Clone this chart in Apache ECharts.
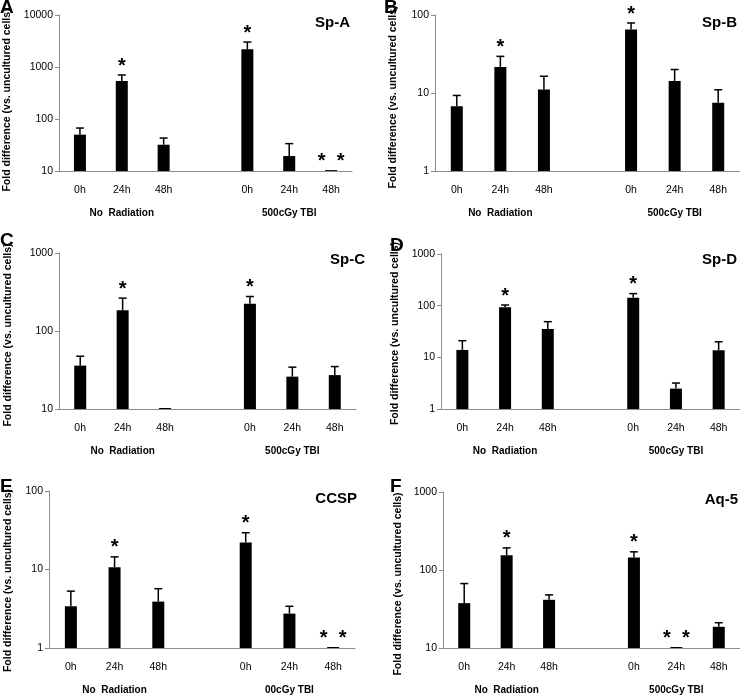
<!DOCTYPE html>
<html>
<head>
<meta charset="utf-8">
<script src="https://cdn.jsdelivr.net/npm/echarts@6/dist/echarts.min.js"></script>
<style>html,body{margin:0;padding:0;background:#fff}#c{width:740px;height:695px}</style>
</head>
<body>
<div id="c"></div>
<script>
// ---- data ----
const categories = ['0h', '24h', '48h', '', '0h', '24h', '48h'];
const groupNoRad = 'No  Radiation';
const groupTBI = '500cGy TBI';
const groupTBI_E = '00cGy TBI';
const yAxisName = 'Fold difference (vs. uncultured cells)';

const spA = [50, 537, 32, null, 2190, 19.4, 10.4];
const errA = [67, 702, 43, null, 3020, 33.6, null];
const starA = [0, 1, 0, 0, 1, 0, 2];

const spB = [6.75, 21.5, 11.1, null, 65, 14.3, 7.5];
const errB = [9.3, 29.5, 16.4, null, 79, 20, 11];
const starB = [0, 1, 0, 0, 1, 0, 0];

const spC = [36, 184, 10.3, null, 223, 26, 27.2];
const errC = [47.5, 264, null, null, 277, 34.4, 35];
const starC = [0, 1, 0, 0, 1, 0, 0];

const spD = [13.9, 93, 35.3, null, 143, 2.48, 13.7];
const errD = [21, 103, 49, null, 171, 3.18, 20];
const starD = [0, 1, 0, 0, 1, 0, 0];

const ccsp = [3.4, 10.7, 3.9, null, 22.1, 2.74, 1.03];
const errE = [5.3, 14.5, 5.7, null, 29.4, 3.4, null];
const starE = [0, 1, 0, 0, 1, 0, 2];

const aq5 = [37.6, 155, 41.5, null, 144.6, 10.3, 18.7];
const errF = [67, 192, 48, null, 171, null, 21.1];
const starF = [0, 1, 0, 0, 1, 2, 0];

const panels = [
  {letter: 'A', title: 'Sp-A', vals: spA, err: errA, star: starA, min: 10, max: 10000, tbi: groupTBI},
  {letter: 'B', title: 'Sp-B', vals: spB, err: errB, star: starB, min: 1, max: 100, tbi: groupTBI},
  {letter: 'C', title: 'Sp-C', vals: spC, err: errC, star: starC, min: 10, max: 1000, tbi: groupTBI},
  {letter: 'D', title: 'Sp-D', vals: spD, err: errD, star: starD, min: 1, max: 1000, tbi: groupTBI},
  {letter: 'E', title: 'CCSP', vals: ccsp, err: errE, star: starE, min: 1, max: 100, tbi: groupTBI_E},
  {letter: 'F', title: 'Aq-5', vals: aq5, err: errF, star: starF, min: 10, max: 1000, tbi: groupTBI}
];

// ---- layout (positions only) ----
const layout = [
  {grid: {left: 59, top: 15, width: 293, height: 156}, nameGap: 46, shift: 7, t: {right: 390, top: 15}, l: {left: 0, top: -2}},
  {grid: {left: 435, top: 15, width: 305, height: 156}, nameGap: 36, shift: 4, t: {right: 3, top: 15}, l: {left: 384, top: -2}},
  {grid: {left: 59, top: 253, width: 297, height: 156}, nameGap: 45, shift: 4, t: {right: 375, top: 252}, l: {left: 0, top: 231}},
  {grid: {left: 441, top: 254, width: 299, height: 155}, nameGap: 40, shift: 2, t: {right: 3, top: 252}, l: {left: 390, top: 236}},
  {grid: {left: 49, top: 491, width: 306, height: 157}, nameGap: 35, shift: 11, t: {right: 383, top: 491}, l: {left: 0, top: 477}},
  {grid: {left: 443, top: 492, width: 297, height: 157}, nameGap: 39, shift: 14, t: {right: 2, top: 492}, l: {left: 390, top: 477}}
];

const FONT = 'Liberation Sans';
const AXIS_COLOR = '#8c8c8c';

function errItem(params, api) {
  const i = api.value(0), lo = api.value(1), hi = api.value(2);
  const a = api.coord([i, lo]);
  const b = api.coord([i, hi]);
  return {
    type: 'group',
    children: [
      {type: 'line', shape: {x1: a[0], y1: a[1], x2: b[0], y2: b[1]}, style: {stroke: '#000', lineWidth: 1.5}},
      {type: 'line', shape: {x1: b[0] - 4, y1: b[1], x2: b[0] + 4, y2: b[1]}, style: {stroke: '#000', lineWidth: 1.5}}
    ]
  };
}

function starItem(params, api) {
  const i = api.value(0), y = api.value(1), kind = api.value(2);
  const p = api.coord([i, y]);
  const st = (x) => ({
    type: 'text',
    style: {text: '*', x: x, y: p[1] - 9, fill: '#000', font: 'bold 20px "' + FONT + '"', align: 'center', verticalAlign: 'middle'}
  });
  const children = kind === 2 ? [st(p[0] - 9.5), st(p[0] + 9.5)] : [st(p[0])];
  return {type: 'group', children: children};
}

const option = {
  animation: false,
  backgroundColor: '#fff',
  title: [], grid: [], xAxis: [], yAxis: [], series: []
};

panels.forEach((pn, k) => {
  const L = layout[k];
  option.grid.push(Object.assign({containLabel: false}, L.grid));
  option.title.push({text: pn.title, right: L.t.right, top: L.t.top, padding: 0,
    textStyle: {fontFamily: FONT, fontWeight: 'bold', fontSize: 15, color: '#000'}});
  option.title.push({text: pn.letter, left: L.l.left, top: L.l.top, padding: 0,
    textStyle: {fontFamily: FONT, fontWeight: 'bold', fontSize: 19, color: '#000'}});
  option.xAxis.push({
    type: 'category', gridIndex: k, data: categories,
    axisLine: {onZero: false, lineStyle: {color: AXIS_COLOR, width: 1}},
    axisTick: {show: false},
    axisLabel: {
      interval: 0, margin: 9, color: '#000',
      formatter: (v, idx) => {
        if (idx === 1) return '{t|' + v + '}\n{g|' + groupNoRad + '}';
        if (idx === 5) return '{t|' + v + '}\n{g|' + pn.tbi + '}';
        return '{t|' + v + '}';
      },
      rich: {
        t: {fontFamily: FONT, fontSize: 10.5, lineHeight: 20, color: '#000'},
        g: {fontFamily: FONT, fontSize: 10, fontWeight: 'bold', lineHeight: 26, color: '#000'}
      }
    }
  });
  option.yAxis.push({
    type: 'log', logBase: 10, gridIndex: k, min: pn.min, max: pn.max,
    name: yAxisName, nameLocation: 'middle', nameGap: L.nameGap,
    nameTextStyle: {fontFamily: FONT, fontWeight: 'bold', fontSize: 10.5, color: '#000',
      padding: [0, 2 * L.shift, 0, 0]},
    axisLine: {show: true, lineStyle: {color: AXIS_COLOR, width: 1}},
    axisTick: {show: true, inside: false, length: 4, lineStyle: {color: AXIS_COLOR}},
    minorTick: {show: false},
    splitLine: {show: false},
    axisLabel: {fontFamily: FONT, fontSize: 10.5, color: '#000', margin: 6,
      formatter: (v) => String(Math.round(v))}
  });
  option.series.push({
    type: 'bar', xAxisIndex: k, yAxisIndex: k, barWidth: 12,
    itemStyle: {color: '#000'}, data: pn.vals
  });
  const errData = [];
  pn.err.forEach((e, i) => { if (e != null && pn.vals[i] != null) errData.push([i, pn.vals[i], e]); });
  option.series.push({
    type: 'custom', xAxisIndex: k, yAxisIndex: k, renderItem: errItem,
    data: errData, z: 3, clip: false
  });
  const starData = [];
  pn.star.forEach((s, i) => {
    if (s) starData.push([i, pn.err[i] != null ? pn.err[i] : pn.vals[i], s]);
  });
  option.series.push({
    type: 'custom', xAxisIndex: k, yAxisIndex: k, renderItem: starItem,
    data: starData, z: 4, clip: false
  });
});

const chart = echarts.init(document.getElementById('c'), null, {renderer: 'canvas'});
chart.setOption(option);
</script>
</body>
</html>
